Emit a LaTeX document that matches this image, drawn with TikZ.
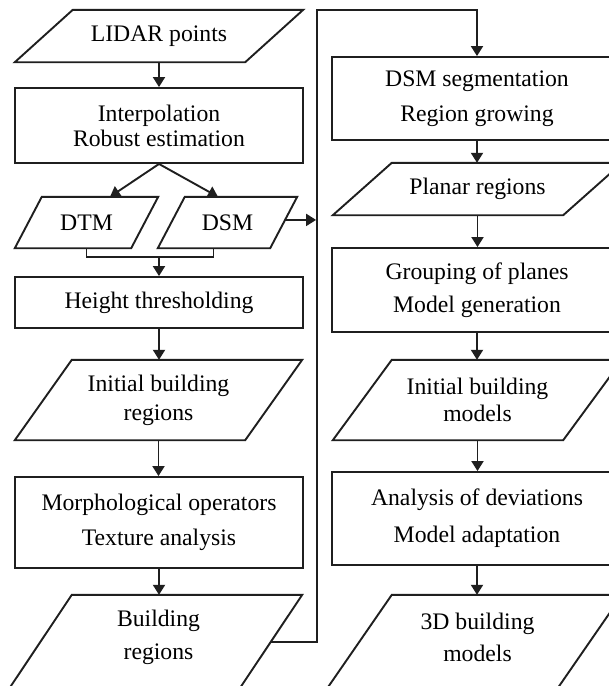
\documentclass[tikz,border=0pt]{standalone}
\usepackage{fontspec}
\setmainfont{Liberation Serif}
\usetikzlibrary{arrows.meta,calc}
\newcommand\drawpara[2]{\draw[outl] ([xshift=#2pt]#1.north west) -- (#1.north east) -- ([xshift=-#2pt]#1.south east) -- (#1.south west) -- cycle;}
\newcommand\drawparaopen[2]{\draw[outl] ($(#1.south west)!-0.2!([xshift=#2pt]#1.north west)$) -- ([xshift=#2pt]#1.north west) -- (#1.north east) -- ($([xshift=-#2pt]#1.south east)!-0.2!(#1.north east)$);}
\begin{document}
\begin{tikzpicture}[x=1pt,y=-1pt,
  outl/.style={draw=black!88, line width=1.9pt},
  txt/.style={inner sep=0pt, align=center, text=black, font=\fontsize{23.7}{28}\selectfont},
  procbox/.style={txt, outl},
  paranode/.style={txt},
  arr/.style={outl, -{Triangle[width=12pt,length=10pt]}}
]
\useasboundingbox (0,0) rectangle (609,686);
\clip (0,0) rectangle (609,686);
\fill[white] (0,0) rectangle (609,686);

% left column
\node[paranode, minimum width=288pt, minimum height=52pt] (lidar) at (159,36) {LIDAR points};
\drawpara{lidar}{58}
\node[procbox, minimum width=288pt, minimum height=75pt] (interp) at (159,125.5) {Interpolation\\[-3pt]Robust estimation};
\node[paranode, minimum width=143pt, minimum height=51pt] (dtm) at (86.5,222.5) {DTM};
\drawpara{dtm}{27}
\node[paranode, minimum width=139pt, minimum height=51pt] (dsm) at (227.5,222.5) {DSM};
\drawpara{dsm}{27}
\node[procbox, minimum width=288pt, minimum height=51pt] (height) at (159,302.5) {Height thresholding};
\node[paranode, minimum width=287pt, minimum height=80pt] (ibr) at (158.5,400) {Initial building\\[1pt]regions};
\drawpara{ibr}{57}
\node[procbox, minimum width=288pt, minimum height=91pt] (morph) at (159,522.5) {Morphological operators\\[7pt]Texture analysis};
\node[paranode, minimum width=287pt, minimum height=85pt] (br) at (158.5,637.5) {Building\\[5pt]regions};
\drawparaopen{br}{57}

% right column
\node[procbox, minimum width=290pt, minimum height=83pt] (seg) at (477,98.5) {DSM segmentation\\[7pt]Region growing};
\node[paranode, minimum width=289pt, minimum height=52pt] (planar) at (477.5,189) {Planar regions};
\drawpara{planar}{59}
\node[procbox, minimum width=290pt, minimum height=84pt] (group) at (477,290) {Grouping of planes\\[5pt]Model generation};
\node[paranode, minimum width=289pt, minimum height=80pt] (ibm) at (477.5,400) {Initial building\\[-1pt]models};
\drawpara{ibm}{59}
\node[procbox, minimum width=290pt, minimum height=93pt] (anal) at (477,518.5) {Analysis of deviations\\[9pt]Model adaptation};
\node[paranode, minimum width=289pt, minimum height=85pt] (m3d) at (477.5,637.5) {3D building\\[4pt]models};
\drawparaopen{m3d}{59}

% helper coordinates
\coordinate (bustop) at (317,10);
\coordinate (merge) at (159,257);
\coordinate (dsmR) at ($([xshift=-27pt]dsm.south east)!0.55!(dsm.north east)$);
\coordinate (brR) at ($([xshift=-57pt]br.south east)!0.447!(br.north east)$);

% left connectors
\draw[arr] (lidar.south) -- (lidar.south |- interp.north);
\draw[arr] (interp.south) -- ([xshift=23.5pt]dtm.north);
\draw[arr] (interp.south) -- ([xshift=-9.5pt]dsm.north);
\draw[outl] (dtm.south) |- (merge) -| ([xshift=-14pt]dsm.south);
\draw[arr] (merge) -- (merge |- height.north);
\draw[arr] (height.south) -- (height.south |- ibr.north);
\draw[arr] (ibr.south) -- (ibr.south |- morph.north);
\draw[arr] (morph.south) -- (morph.south |- br.north);

% bus
\draw[arr] (dsmR) -- ([xshift=-0.9pt]dsmR -| bustop);
\draw[arr] (brR) -- (brR -| bustop) -- (bustop) -- (bustop -| seg.north) -- (seg.north);

% right connectors
\draw[arr] (seg.south) -- (seg.south |- planar.north);
\draw[arr] (planar.south) -- (planar.south |- group.north);
\draw[arr] (group.south) -- (group.south |- ibm.north);
\draw[arr] (ibm.south) -- (ibm.south |- anal.north);
\draw[arr] (anal.south) -- (anal.south |- m3d.north);
\end{tikzpicture}
\end{document}
